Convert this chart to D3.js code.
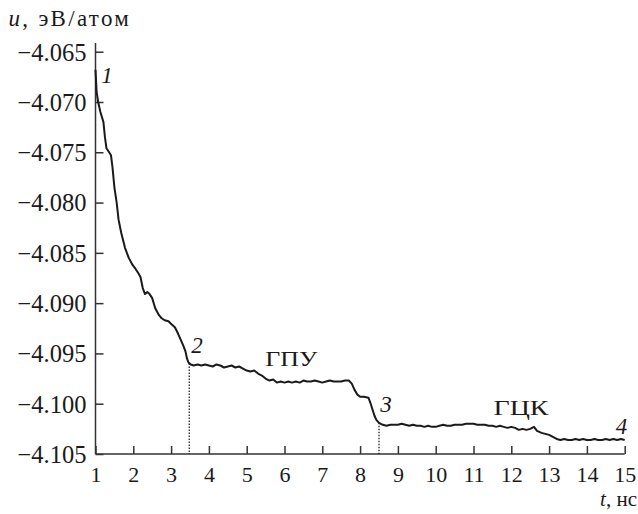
<!DOCTYPE html>
<html>
<head>
<meta charset="utf-8">
<script src="https://cdn.jsdelivr.net/npm/d3@7"></script>
<style>
  body { margin: 0; font-family: "Liberation Serif", "Times New Roman", Tinos; }
  #wrap { position: relative; width: 638px; height: 514px; }
  #wrap svg { position: absolute; left: 0; top: 0; }
  .c text { font-family: "Liberation Serif", "Times New Roman", Tinos; fill: #1a1a1a; }
  .ttl { position: absolute; font-family: "Liberation Serif", "Times New Roman", Tinos; color: #1a1a1a; line-height: 1; white-space: nowrap; }
  .ttl i { font-style: italic; }
</style>
</head>
<body>
<div id="wrap">
<div id="ytitle" class="ttl" style="left:8.5px;top:7.4px;font-size:23px;letter-spacing:2.3px"></div>
<svg width="638" height="514" class="c"></svg>
</div>
<script>
// ---- data ----
const timeNs = [
  1.00, 1.03, 1.07, 1.13, 1.21, 1.25, 1.29, 1.36, 1.41, 1.45, 1.50, 1.56, 1.61, 1.68, 1.78, 1.88, 1.98,
  2.06, 2.13, 2.19, 2.25, 2.31, 2.37, 2.43, 2.50, 2.58, 2.68, 2.75, 2.83, 2.93,
  3.01, 3.10, 3.18, 3.25, 3.32, 3.38, 3.42, 3.46, 3.52, 3.60, 3.70, 3.80, 3.90,
  4.00, 4.10, 4.20, 4.30, 4.40, 4.50, 4.60, 4.70, 4.80, 4.90,
  5.00, 5.10, 5.20, 5.30, 5.40, 5.50, 5.60, 5.70, 5.80, 5.90,
  6.00, 6.10, 6.20, 6.30, 6.40, 6.50, 6.60, 6.70, 6.80, 6.90,
  7.00, 7.10, 7.20, 7.30, 7.40, 7.50, 7.60, 7.70, 7.78, 7.85, 7.93,
  8.00, 8.10, 8.22, 8.28, 8.33, 8.38, 8.43, 8.50, 8.60, 8.70, 8.80, 8.90,
  9.00, 9.10, 9.20, 9.30, 9.40, 9.50, 9.60, 9.70, 9.80, 9.90,
  10.00, 10.10, 10.20, 10.30, 10.40, 10.50, 10.60, 10.70, 10.80, 10.90,
  11.00, 11.10, 11.20, 11.30, 11.40, 11.50, 11.60, 11.70, 11.80, 11.90,
  12.00, 12.10, 12.20, 12.30, 12.40, 12.50, 12.60, 12.68, 12.80, 12.90,
  13.00, 13.10, 13.20, 13.30, 13.40, 13.50, 13.60, 13.70, 13.80, 13.90,
  14.00, 14.10, 14.20, 14.30, 14.40, 14.50, 14.60, 14.70, 14.80, 14.90, 15.00
];
const energy = [
  -4.0668, -4.0690, -4.0700, -4.0710, -4.0720, -4.0735, -4.0746, -4.0750, -4.0753, -4.0765, -4.0785, -4.0800, -4.0817, -4.0830, -4.0845, -4.0855, -4.0862,
  -4.0866, -4.0870, -4.0874, -4.0885, -4.0891, -4.0889, -4.0891, -4.0895, -4.0905, -4.0912, -4.0915, -4.0917, -4.0918,
  -4.0921, -4.0924, -4.0930, -4.0936, -4.0942, -4.0948, -4.0955, -4.0959, -4.0961, -4.0962, -4.0961, -4.0962, -4.0961,
  -4.0962, -4.0963, -4.0961, -4.0962, -4.0964, -4.0963, -4.0962, -4.0964, -4.0963, -4.0965,
  -4.0967, -4.0968, -4.0967, -4.0970, -4.0972, -4.0975, -4.0977, -4.0976, -4.0979, -4.0978,
  -4.0979, -4.0978, -4.0979, -4.0978, -4.0979, -4.0977, -4.0978, -4.0978, -4.0977, -4.0978,
  -4.0979, -4.0978, -4.0977, -4.0978, -4.0978, -4.0978, -4.0977, -4.0977, -4.0980, -4.0986, -4.0991,
  -4.0993, -4.0993, -4.0994, -4.1000, -4.1006, -4.1012, -4.1016, -4.1019, -4.1021, -4.1022, -4.1021, -4.1021,
  -4.1021, -4.1020, -4.1021, -4.1022, -4.1021, -4.1022, -4.1022, -4.1023, -4.1022, -4.1023,
  -4.1023, -4.1022, -4.1021, -4.1022, -4.1022, -4.1021, -4.1021, -4.1021, -4.1020, -4.1020,
  -4.1020, -4.1021, -4.1021, -4.1021, -4.1022, -4.1022, -4.1023, -4.1022, -4.1023, -4.1024,
  -4.1023, -4.1024, -4.1026, -4.1025, -4.1026, -4.1025, -4.1023, -4.1027, -4.1029, -4.1030,
  -4.1031, -4.1033, -4.1035, -4.1036, -4.1035, -4.1036, -4.1036, -4.1035, -4.1036, -4.1035,
  -4.1036, -4.1036, -4.1035, -4.1036, -4.1036, -4.1035, -4.1036, -4.1035, -4.1036, -4.1035, -4.1036
];
const xTicks = [1, 2, 3, 4, 5, 6, 7, 8, 9, 10, 11, 12, 13, 14, 15];
const yTicks = [-4.065, -4.070, -4.075, -4.080, -4.085, -4.090, -4.095, -4.100, -4.105];
const markerTimes = [3.48, 8.50];          // dotted drop lines
const markerEnergies = [-4.0960, -4.1019];
const pointLabels = ["1", "2", "3", "4"];
const pointLabelT = [1.15, 3.53, 8.53, 15.07];
const pointLabelU = [-4.0681, -4.09495, -4.10078, -4.1030];
const phaseLabels = ["ГПУ", "ГЦК"];
const phaseLabelT = [5.49, 11.53];
const phaseLabelU = [-4.09628, -4.10111];
const yAxisSymbol = "u";
const yAxisTitle = "эВ/атом";
const xAxisSymbol = "t";
const xAxisTitle = "нс";

// ---- drawing ----
const FONT = '"Liberation Serif", "Times New Roman", Tinos';
const svg = d3.select("svg");
const x = d3.scaleLinear().domain([1, 15]).range([95.5, 624.7]);
const y = d3.scaleLinear().domain([-4.105, -4.065]).range([454, 51.7]);
const axisColor = "#333";

// y-axis title first (HTML, before the svg content)
const yt = d3.select("#ytitle");
yt.append("i").text(yAxisSymbol);
yt.append("span").text(", " + yAxisTitle);

// axes
const gy = svg.append("g").attr("transform", `translate(${x(1)},0)`)
  .call(d3.axisLeft(y).tickValues(yTicks).tickSize(-8).tickPadding(9)
    .tickFormat(d3.format(".3f")));
gy.attr("font-family", FONT).attr("font-size", 24.5);
gy.select(".domain").remove();
gy.selectAll(".tick line").attr("stroke", axisColor).attr("stroke-width", 1.5);
gy.selectAll(".tick text").attr("font-family", FONT).attr("font-size", 24.5)
  .attr("fill", "#1a1a1a").attr("dy", "0.34em");

const gx = svg.append("g").attr("transform", `translate(0,${y(-4.105)})`)
  .call(d3.axisBottom(x).tickValues(xTicks).tickSize(-8).tickPadding(12)
    .tickFormat(d3.format("d")));
gx.attr("font-family", FONT).attr("font-size", 22);
gx.select(".domain").remove();
gx.selectAll(".tick line").attr("stroke", axisColor).attr("stroke-width", 1.5);
gx.selectAll(".tick text").attr("font-family", FONT).attr("font-size", 22).attr("fill", "#1a1a1a");

// axis lines
svg.append("line").attr("x1", x(1)).attr("x2", x(1)).attr("y1", 43).attr("y2", y(-4.105))
  .attr("stroke", axisColor).attr("stroke-width", 1.5);
svg.append("line").attr("x1", x(1)).attr("x2", x(15)).attr("y1", y(-4.105)).attr("y2", y(-4.105))
  .attr("stroke", axisColor).attr("stroke-width", 1.5);

// dotted drop lines
markerTimes.forEach((t, i) => {
  svg.append("line").attr("x1", x(t)).attr("x2", x(t))
    .attr("y1", y(markerEnergies[i])).attr("y2", y(-4.105))
    .attr("stroke", "#222").attr("stroke-width", 1.3).attr("stroke-dasharray", "1.5,1.5");
});

// curve
const pts = timeNs.map((t, i) => [t, energy[i]]);
svg.append("path").datum(pts)
  .attr("fill", "none").attr("stroke", "#1a1a1a").attr("stroke-width", 2)
  .attr("stroke-linejoin", "round")
  .attr("d", d3.line().x(d => x(d[0])).y(d => y(d[1])));

// point labels
pointLabels.forEach((s, i) => {
  svg.append("text")
    .attr("x", x(pointLabelT[i])).attr("y", y(pointLabelU[i]))
    .attr("text-anchor", i === 3 ? "end" : "start")
    .attr("font-family", FONT).attr("font-size", 23).attr("font-style", "italic").text(s);
});
// phase labels
const phaseWidths = [52, 55];
phaseLabels.forEach((s, i) => {
  svg.append("text").attr("x", x(phaseLabelT[i])).attr("y", y(phaseLabelU[i]))
    .attr("font-family", FONT).attr("font-size", 20)
    .attr("textLength", phaseWidths[i]).attr("lengthAdjust", "spacingAndGlyphs").text(s);
});

// x-axis title (HTML)
const xt = d3.select("#wrap").append("div").attr("class", "ttl")
  .style("right", "1px").style("top", "489px").style("font-size", "21px");
xt.append("i").text(xAxisSymbol);
xt.append("span").text(", " + xAxisTitle);
</script>
</body>
</html>
